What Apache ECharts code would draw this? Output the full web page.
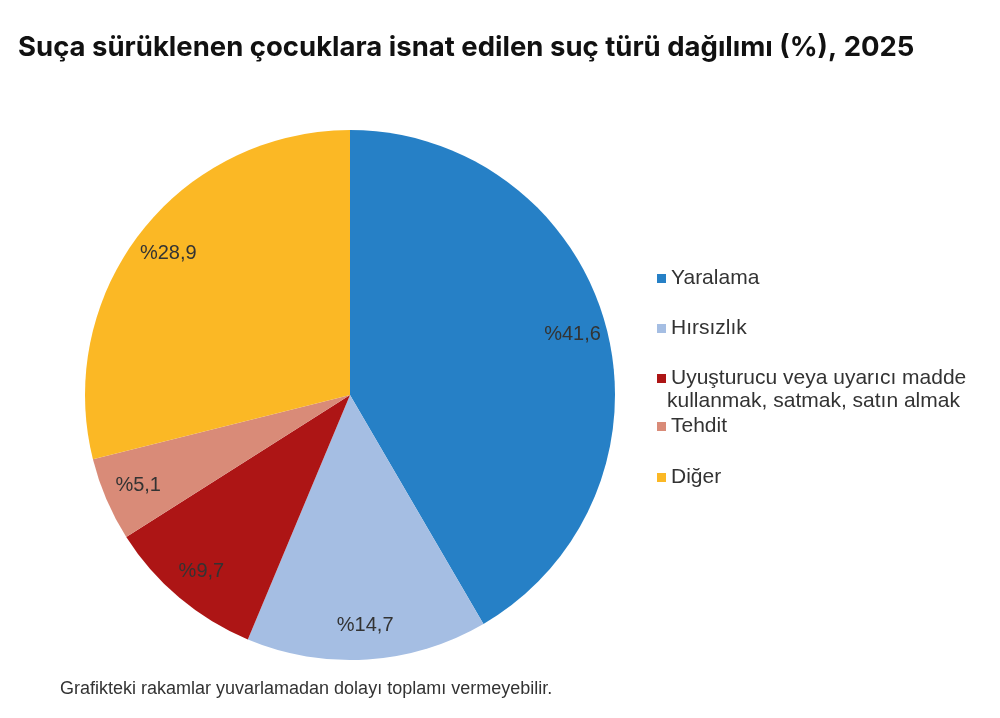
<!DOCTYPE html>
<html>
    <head>
        <meta charset="utf-8">
        <title></title>
        <style>
            html, body{
                margin: 0;
                background: #fff;
            }
            #div{
                width: 1000px;
                height: 718px;
            }
        </style>
    </head>
    <body>
        <div id="div"></div>
        <script src="https://cdn.jsdelivr.net/npm/echarts@6/dist/echarts.min.js"></script>
        <script>
            // veriler
            var turler = ['Yaralama', 'Hırsızlık', 'Uyuşturucu veya uyarıcı madde kullanmak, satmak, satın almak', 'Tehdit', 'Diğer'];
            var oranlar = [41.6, 14.7, 9.7, 5.1, 28.9];
            var renkler = ['#2680c6', '#a5bee3', '#ad1515', '#d98b78', '#fbb825'];
            var legendTop = [263, 313, 363, 411, 462];

            var yazi = '"Liberation Sans", Arial, sans-serif';

            var data = [];
            for (var i = 0; i < turler.length; i++) {
                data.push({ name: turler[i], value: oranlar[i], itemStyle: { color: renkler[i] } });
            }

            var legends = [];
            for (var j = 0; j < turler.length; j++) {
                legends.push({
                    orient: 'vertical',
                    left: 652,
                    top: legendTop[j],
                    data: [turler[j]],
                    icon: 'rect',
                    itemWidth: 9,
                    itemHeight: 9,
                    itemGap: 0,
                    selectedMode: false,
                    formatter: function (n) {
                        return n.split(' kullanmak')[0];
                    },
                    textStyle: { fontFamily: yazi, fontSize: 21, color: '#333' }
                });
            }

            var chartDom = document.getElementById('div');
            var myChart = echarts.init(chartDom);
            var option;

            option = {
                animation: false,
                title: {
                    text: 'Suça sürüklenen çocuklara isnat edilen suç türü dağılımı (%), 2025',
                    left: 13,
                    top: 29,
                    textStyle: { fontFamily: 'Inter, sans-serif', fontWeight: 'bold', fontSize: 27.5, color: '#111' }
                },
                legend: legends,
                graphic: [
                    {
                        type: 'text',
                        left: 667,
                        top: 391,
                        style: { text: 'kullanmak, satmak, satın almak', font: '21px ' + yazi, fill: '#333' }
                    },
                    {
                        type: 'text',
                        left: 60,
                        top: 680,
                        style: { text: 'Grafikteki rakamlar yuvarlamadan dolayı toplamı vermeyebilir.', font: '18px ' + yazi, fill: '#333' }
                    }
                ],
                series: [
                    {
                        type: 'pie',
                        center: [350, 395],
                        radius: [0, 265],
                        startAngle: 90,
                        clockwise: true,
                        silent: true,
                        label: { show: false },
                        labelLine: { show: false },
                        data: data
                    },
                    {
                        // etiketler için saydam halka
                        type: 'pie',
                        center: [350, 395],
                        radius: [190, 265],
                        startAngle: 90,
                        clockwise: true,
                        silent: true,
                        itemStyle: { color: 'rgba(0,0,0,0)' },
                        label: {
                            show: true,
                            position: 'inside',
                            fontFamily: yazi,
                            fontSize: 20,
                            color: '#333',
                            formatter: function (p) {
                                return '%' + p.value.toFixed(1).replace('.', ',');
                            }
                        },
                        labelLine: { show: false },
                        data: oranlar.map(function (v, k) { return { name: turler[k] + ' ', value: v }; })
                    }
                ]
            };

            option && myChart.setOption(option);
        </script>
    </body>
</html>
